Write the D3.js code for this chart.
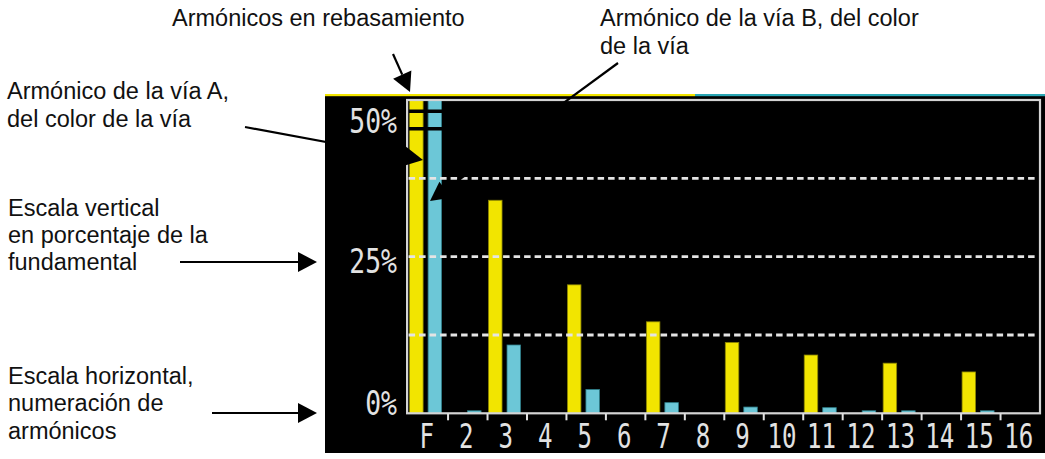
<!DOCTYPE html>
<html>
<head>
<meta charset="utf-8">
<script src="https://cdn.jsdelivr.net/npm/d3@7"></script>
<style>
  body { margin: 0; background: #fff; }
  svg { display: block; }
</style>
</head>
<body>
<svg id="chart" width="1045" height="459"></svg>
<script>
// Harmonic ranks shown on the horizontal scale
const harmonics = ["F", "2", "3", "4", "5", "6", "7", "8", "9", "10", "11", "12", "13", "14", "15", "16"];
// Level of each harmonic in % of the fundamental, channel A (yellow) and channel B (cyan)
const channelA = [100, 0, 34, 0, 20.5, 0, 14.6, 0, 11.3, 0, 9.3, 0, 8.0, 0, 6.6, 0];
const channelB = [100, 0.4, 10.9, 0, 3.8, 0, 1.7, 0, 1.0, 0, 0.9, 0.4, 0.4, 0, 0.4, 0];
// Vertical scale
const yTickValues = [0, 25, 50];
const yTickLabels = ["0%", "25%", "50%"];
const gridValues = [12.5, 25, 37.5];

const colorA = "#f2e500";
const colorB = "#6cc7d7";
const screenText = "#e2e2e2";
const screenFont = "'DejaVu Sans Mono', monospace";

const svg = d3.select("#chart");

// Instrument screen background
const screen = { x0: 325, y0: 96, x1: 1045, y1: 453 };
svg.append("rect")
  .attr("x", screen.x0).attr("y", screen.y0)
  .attr("width", screen.x1 - screen.x0).attr("height", screen.y1 - screen.y0)
  .attr("fill", "#000");

// Channel colour strip along the top edge of the screen
svg.append("rect").attr("x", 325).attr("y", 94).attr("width", 370).attr("height", 2.2).attr("fill", colorA);
svg.append("rect").attr("x", 695).attr("y", 94).attr("width", 350).attr("height", 2.2).attr("fill", "#2aa6b4");

const plot = { left: 408.6, right: 1040, top: 100, bottom: 413.3 };

const x = d3.scaleBand().domain(harmonics).range([plot.left, plot.right]).padding(0);
const inner = d3.scaleBand().domain(["A", "B"]).range([1, 33]).paddingInner(0.27);
const yMax = 50;
const y = d3.scaleLinear().domain([0, yMax]).range([plot.bottom, plot.top]);

const rows = harmonics.map((h, i) => ({ h, A: channelA[i], B: channelB[i] }));
const bars = [];
rows.forEach(r => {
  ["A", "B"].forEach(k => bars.push({ h: r.h, ch: k, v: r[k] }));
});

// Bars
const barG = svg.append("g");
barG.selectAll("rect.bar")
  .data(bars.filter(d => d.v > 0))
  .join("rect")
  .attr("class", "bar")
  .attr("x", d => x(d.h) + inner(d.ch))
  .attr("width", inner.bandwidth())
  .attr("y", d => y(Math.min(d.v, yMax)))
  .attr("height", d => y(0) - y(Math.min(d.v, yMax)))
  .attr("fill", d => d.ch === "A" ? colorA : colorB)
  .attr("stroke", d => d.ch === "A" ? "#8c8500" : "#2f7f8a")
  .attr("stroke-width", 0.8);

// Overflow marks: two black breaks near the top of any bar beyond full scale
const over = bars.filter(d => d.v > yMax);
[9.5, 27].forEach(off => {
  barG.selectAll(null)
    .data(over)
    .join("rect")
    .attr("x", d => x(d.h) + inner(d.ch) - 1)
    .attr("width", inner.bandwidth() + 2)
    .attr("y", y(yMax) + off)
    .attr("height", 3.5)
    .attr("fill", "#000");
});

// Dashed grid lines
svg.append("g").selectAll("line")
  .data(gridValues)
  .join("line")
  .attr("x1", plot.left).attr("x2", plot.right - 3)
  .attr("y1", d => y(d)).attr("y2", d => y(d))
  .attr("stroke", "#e4e4e4")
  .attr("stroke-width", 2.8)
  .attr("stroke-dasharray", "6.5,4");

// Frame
svg.append("rect")
  .attr("x", plot.left - 1.5).attr("y", plot.top)
  .attr("width", plot.right - plot.left + 1.5).attr("height", plot.bottom - plot.top)
  .attr("fill", "none")
  .attr("stroke", "#d4d4d4")
  .attr("stroke-width", 2.2);

// Ticks between harmonic ranks
svg.append("g").selectAll("line")
  .data(harmonics.slice(1))
  .join("line")
  .attr("x1", d => x(d)).attr("x2", d => x(d))
  .attr("y1", plot.bottom).attr("y2", plot.bottom + 7)
  .attr("stroke", "#e0e0e0")
  .attr("stroke-width", 2);

// Harmonic rank labels
const xAxis = svg.append("g")
  .attr("transform", `translate(-1.5,${plot.bottom})`)
  .call(d3.axisBottom(x).tickSize(0).tickPadding(0));
xAxis.select(".domain").remove();
xAxis.selectAll("text")
  .attr("y", 35)
  .attr("dy", 0)
  .attr("transform", "scale(0.73,1)")
  .attr("fill", screenText)
  .style("font-family", screenFont)
  .style("font-size", "33px");

// Percentage labels, kept inside the frame height
svg.append("g").selectAll("text")
  .data(yTickValues)
  .join("text")
  .attr("transform", d => {
    const base = Math.max(plot.top + 33, Math.min(plot.bottom + 2, y(d) + 16));
    return `translate(397,${base}) scale(0.8,1)`;
  })
  .attr("text-anchor", "end")
  .attr("fill", screenText)
  .style("font-family", screenFont)
  .style("font-size", "33px")
  .text((d, i) => yTickLabels[i]);

// Callouts
const notes = svg.append("g")
  .style("font-family", "'Liberation Sans', Arial, sans-serif")
  .style("font-size", "23.5px")
  .attr("fill", "#111");

function label(xp, lines, baselines) {
  lines.forEach((t, i) => notes.append("text").attr("x", xp).attr("y", baselines[i]).text(t));
}
function arrow(x1, y1, x2, y2) {
  const a = Math.atan2(y2 - y1, x2 - x1);
  const len = 19, half = 10;
  const bx = x2 - len * Math.cos(a), by = y2 - len * Math.sin(a);
  notes.append("line")
    .attr("x1", x1).attr("y1", y1).attr("x2", bx).attr("y2", by)
    .attr("stroke", "#000").attr("stroke-width", 2.2);
  const p = [
    [x2, y2],
    [bx + half * Math.sin(a), by - half * Math.cos(a)],
    [bx - half * Math.sin(a), by + half * Math.cos(a)]
  ];
  notes.append("path").attr("d", d3.line()(p) + "Z").attr("fill", "#000");
}

label(172, ["Armónicos en rebasamiento"], [26]);
arrow(393, 54, 410, 92);

label(600, ["Armónico de la vía B, del color", "de la vía"], [26, 54]);
arrow(618, 63, 430, 201);

label(7, ["Armónico de la vía A,", "del color de la vía"], [99, 127]);
arrow(245, 127, 423, 160);

label(8, ["Escala vertical", "en porcentaje de la", "fundamental"], [216, 243, 270]);
arrow(180, 262, 317, 262);

label(8, ["Escala horizontal,", "numeración de", "armónicos"], [384, 411, 439]);
arrow(212, 413, 317, 413);
</script>
</body>
</html>
